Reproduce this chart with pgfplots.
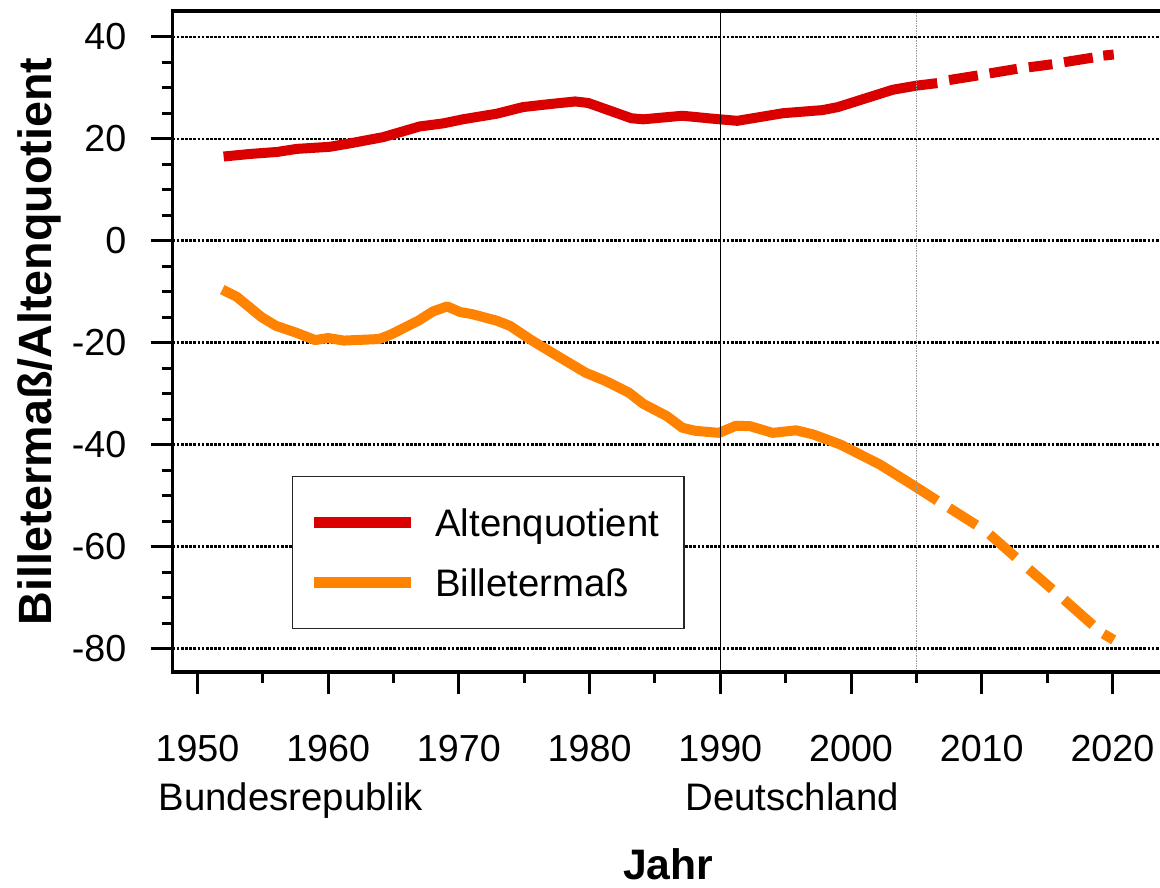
\documentclass[border=0pt]{standalone}
\usepackage{fontspec}
\setmainfont{Liberation Sans}
\usepackage{pgfplots}
\pgfplotsset{compat=1.18}
\definecolor{rd}{RGB}{218,0,0}
\definecolor{og}{RGB}{255,130,0}
\begin{document}
\begin{tikzpicture}
\begin{axis}[
  scale only axis, width=296.25pt, height=198.3pt,
  xmin=1948.09, xmax=2023.64, ymin=-84.6, ymax=45.05,
  clip=false,
  axis line style={draw=none},
  tick pos=left, tick align=outside,
  xtick={1950,1960,...,2020}, minor x tick num=1,
  ytick={-80,-60,...,40}, minor y tick num=3,
  major tick length=6.5pt, minor tick length=3.3pt,
  tick style={black, line width=0.9pt},
  ymajorgrids,
  major grid style={black, line width=0.7pt, dash pattern=on 0.8pt off 0.45pt},
  /pgf/number format/assume math mode=true,
  /pgf/number format/1000 sep={},
  ticklabel style={font=\fontsize{11.3pt}{13pt}\selectfont, inner sep=0pt},
  xticklabel style={anchor=north, yshift=-12.4pt},
  yticklabel style={anchor=east, xshift=-7.15pt},
  xlabel={Jahr},
  xlabel style={font=\bfseries\fontsize{12.8pt}{15pt}\selectfont, at={(rel axis cs:0.502,-0.2905)}, anchor=center},
  ylabel={Billetermaß/Altenquotient},
  ylabel style={font=\bfseries\fontsize{14pt}{16pt}\selectfont, at={(rel axis cs:-0.1346,0.5)}, anchor=center},
  unbounded coords=jump,
  legend cell align=left,
  legend image code/.code={\draw[#1, line width=3.3pt, solid] (0pt,0pt) -- (29pt,0pt);},
  legend style={at={(0.121,0.2965)}, anchor=north west, draw=black!85, line width=0.4pt, fill=white,
    inner xsep=4.8pt, inner ysep=4.8pt, row sep=0pt, column sep=5.7pt,
    nodes={inner sep=0pt, text height=13.1pt, text depth=4.9pt, text width=69.8pt, align=left, font=\fontsize{11.5pt}{13pt}\selectfont}},
]
\addplot[rd, line width=3.0pt, line join=round] coordinates {
(1952.0,16.5) (1954.0,17.0) (1956.1,17.4) (1957.6,18.0) (1960.1,18.4) (1961.7,19.1)
(1964.2,20.3) (1967.0,22.4) (1968.8,23.0) (1970.3,23.8) (1972.9,24.9) (1974.9,26.2)
(1977.0,26.8) (1978.9,27.3) (1979.9,27.0) (1983.2,24.0) (1984.1,23.8) (1987.1,24.5)
(1989.5,23.9) (1991.3,23.5) (1994.8,25.0) (1997.8,25.6) (1999.0,26.2) (2003.2,29.6)
(2005.0,30.4) (2006.6,30.9) (2007.0,nan) (2007.5,31.5) (2009.7,32.4) (2010.1,nan)
(2010.6,32.8) (2012.7,33.7) (2013.1,nan) (2013.6,34.0) (2015.4,34.6) (2015.8,nan)
(2016.3,35.0) (2018.5,35.9) (2018.9,nan) (2019.3,36.3) (2020.1,36.5)
};
\addlegendentry{Altenquotient}
\addplot[og, line width=3.0pt, line join=round] coordinates {
(1951.9,-9.6) (1953.0,-11.0) (1954.9,-15.0) (1956.0,-16.7) (1957.5,-18.0) (1959.0,-19.5)
(1960.0,-19.1) (1961.2,-19.6) (1963.9,-19.3) (1964.8,-18.4) (1966.9,-15.7) (1968.0,-13.9)
(1969.1,-12.9) (1970.1,-14.0) (1971.0,-14.4) (1972.9,-15.7) (1973.9,-16.7) (1975.6,-19.6)
(1977.4,-22.4) (1979.7,-25.9) (1981.2,-27.5) (1983.0,-29.8) (1984.1,-32.0) (1985.9,-34.4)
(1987.1,-36.7) (1988.1,-37.3) (1989.9,-37.7) (1991.2,-36.3) (1992.3,-36.4) (1994.0,-37.7)
(1995.8,-37.2) (1997.1,-38.0) (1999.2,-40.0) (2002.2,-43.9) (2004.9,-48.2) (2006.6,-51.0)
(2007.0,nan) (2007.5,-52.4) (2009.6,-55.8) (2010.1,nan) (2010.6,-57.6) (2012.6,-62.1)
(2013.1,nan) (2013.6,-64.4) (2015.4,-68.4) (2015.8,nan) (2016.3,-70.4) (2018.5,-75.4)
(2018.9,nan) (2019.3,-77.1) (2020.1,-78.3)
};
\addlegendentry{Billetermaß}
\addplot[forget plot, black, line width=0.35pt] coordinates {(1990,-84.6) (1990,45.05)};
\addplot[forget plot, black!40, line width=0.45pt, dash pattern=on 0.45pt off 0.3pt] coordinates {(2005,-84.6) (2005,45.05)};
\draw[black, line width=1.1pt, line cap=rect] (rel axis cs:0,1) -- (rel axis cs:0,0) -- (rel axis cs:1,0);
\draw[black, line width=1.0pt] (rel axis cs:0,1) -- (rel axis cs:1,1);
\node[anchor=base west, font=\fontsize{11.5pt}{13pt}\selectfont, inner sep=0pt] at (rel axis cs:-0.0147,-0.2088) {Bundesrepublik};
\node[anchor=base west, font=\fontsize{11.5pt}{13pt}\selectfont, inner sep=0pt] at (rel axis cs:0.519,-0.2088) {Deutschland};
\coordinate (BL) at (rel axis cs:-0.1747,-0.3253);
\coordinate (TR) at (rel axis cs:1,1.0166);
\end{axis}
\pgfresetboundingbox
\path[use as bounding box] (BL) rectangle (TR);
\end{tikzpicture}
\end{document}
